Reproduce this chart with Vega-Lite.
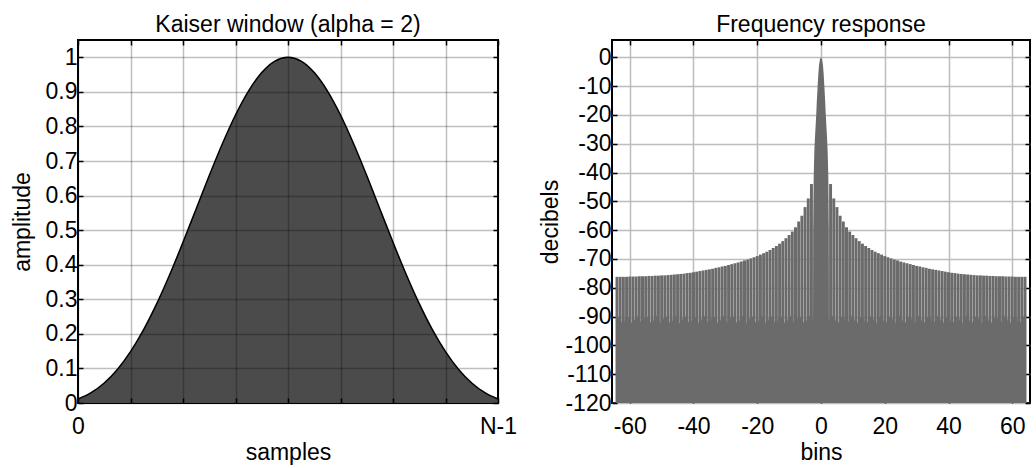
{
  "$schema": "https://vega.github.io/schema/vega-lite/v6.json",
  "background": "white",
  "padding": {"left": 10, "top": 13, "right": 5, "bottom": 0},
  "bounds": "flush",
  "spacing": 114,
  "config": {
    "font": "Liberation Sans",
    "view": {"stroke": "black", "strokeWidth": 2},
    "axis": {
      "labelFont": "Liberation Sans", "labelFontSize": 23, "labelColor": "black",
      "titleFont": "Liberation Sans", "titleFontSize": 23, "titleFontWeight": "normal", "titleColor": "black",
      "domain": false, "tickColor": "black", "tickSize": -5, "tickWidth": 1.5,
      "gridColor": "#bdbdbd", "gridWidth": 1.5, "labelPadding": 6
    },
    "axisX": {"labelPadding": 17, "titlePadding": 3},
    "axisY": {"titlePadding": 11},
    "title": {"font": "Liberation Sans", "fontSize": 23, "fontWeight": "normal", "color": "black", "offset": 2}
  },
  "datasets": {
    "kaiser": [
      {"x": 0, "w": 0.0115}, {"x": 0.03125, "w": 0.0299}, {"x": 0.0625, "w": 0.058}, {"x": 0.09375, "w": 0.0972},
      {"x": 0.125, "w": 0.1485}, {"x": 0.15625, "w": 0.2121}, {"x": 0.1875, "w": 0.2873}, {"x": 0.21875, "w": 0.3724},
      {"x": 0.25, "w": 0.4649}, {"x": 0.28125, "w": 0.5614}, {"x": 0.3125, "w": 0.6579}, {"x": 0.34375, "w": 0.75},
      {"x": 0.375, "w": 0.8331}, {"x": 0.40625, "w": 0.903}, {"x": 0.4375, "w": 0.9559}, {"x": 0.46875, "w": 0.989},
      {"x": 0.5, "w": 1},
      {"x": 0.53125, "w": 0.989}, {"x": 0.5625, "w": 0.9559}, {"x": 0.59375, "w": 0.903}, {"x": 0.625, "w": 0.8331},
      {"x": 0.65625, "w": 0.75}, {"x": 0.6875, "w": 0.6579}, {"x": 0.71875, "w": 0.5614}, {"x": 0.75, "w": 0.4649},
      {"x": 0.78125, "w": 0.3724}, {"x": 0.8125, "w": 0.2873}, {"x": 0.84375, "w": 0.2121}, {"x": 0.875, "w": 0.1485},
      {"x": 0.90625, "w": 0.0972}, {"x": 0.9375, "w": 0.058}, {"x": 0.96875, "w": 0.0299}, {"x": 1, "w": 0.0115}
    ],
    "mainlobe": [
      {"bin": -2.5, "db": -92}, {"bin": -2.45, "db": -60}, {"bin": -2.3, "db": -42}, {"bin": -2.1, "db": -33},
      {"bin": -1.9, "db": -28}, {"bin": -1.7, "db": -24}, {"bin": -1.5, "db": -20}, {"bin": -1.3, "db": -15},
      {"bin": -1.05, "db": -10}, {"bin": -0.85, "db": -6}, {"bin": -0.6, "db": -2.5}, {"bin": -0.3, "db": -0.6},
      {"bin": 0, "db": 0},
      {"bin": 0.3, "db": -0.6}, {"bin": 0.6, "db": -2.5}, {"bin": 0.85, "db": -6}, {"bin": 1.05, "db": -10},
      {"bin": 1.3, "db": -15}, {"bin": 1.5, "db": -20}, {"bin": 1.7, "db": -24}, {"bin": 1.9, "db": -28},
      {"bin": 2.1, "db": -33}, {"bin": 2.3, "db": -42}, {"bin": 2.45, "db": -60}, {"bin": 2.5, "db": -92}
    ],
    "sidelobes": [
      {"bin":-64,"peak":-76.2,"floor":-89},{"bin":-63,"peak":-76.2,"floor":-91},{"bin":-62,"peak":-76.2,"floor":-93},{"bin":-61,"peak":-76.2,"floor":-89},
      {"bin":-60,"peak":-76.1,"floor":-91},{"bin":-59,"peak":-76.1,"floor":-93},{"bin":-58,"peak":-76.1,"floor":-89},{"bin":-57,"peak":-76.0,"floor":-91},
      {"bin":-56,"peak":-76.0,"floor":-93},{"bin":-55,"peak":-76.0,"floor":-89},{"bin":-54,"peak":-75.9,"floor":-91},{"bin":-53,"peak":-75.9,"floor":-93},
      {"bin":-52,"peak":-75.8,"floor":-89},{"bin":-51,"peak":-75.8,"floor":-91},{"bin":-50,"peak":-75.7,"floor":-93},{"bin":-49,"peak":-75.7,"floor":-89},
      {"bin":-48,"peak":-75.6,"floor":-91},{"bin":-47,"peak":-75.5,"floor":-93},{"bin":-46,"peak":-75.4,"floor":-89},{"bin":-45,"peak":-75.3,"floor":-91},
      {"bin":-44,"peak":-75.2,"floor":-93},{"bin":-43,"peak":-75.1,"floor":-89},{"bin":-42,"peak":-74.9,"floor":-91},{"bin":-41,"peak":-74.8,"floor":-93},
      {"bin":-40,"peak":-74.6,"floor":-89},{"bin":-39,"peak":-74.4,"floor":-91},{"bin":-38,"peak":-74.2,"floor":-93},{"bin":-37,"peak":-74.0,"floor":-89},
      {"bin":-36,"peak":-73.8,"floor":-91},{"bin":-35,"peak":-73.6,"floor":-93},{"bin":-34,"peak":-73.4,"floor":-89},{"bin":-33,"peak":-73.1,"floor":-91},
      {"bin":-32,"peak":-72.9,"floor":-93},{"bin":-31,"peak":-72.6,"floor":-89},{"bin":-30,"peak":-72.4,"floor":-91},{"bin":-29,"peak":-72.1,"floor":-93},
      {"bin":-28,"peak":-71.8,"floor":-89},{"bin":-27,"peak":-71.5,"floor":-91},{"bin":-26,"peak":-71.2,"floor":-93},{"bin":-25,"peak":-70.9,"floor":-89},
      {"bin":-24,"peak":-70.5,"floor":-91},{"bin":-23,"peak":-70.2,"floor":-93},{"bin":-22,"peak":-69.8,"floor":-89},{"bin":-21,"peak":-69.4,"floor":-91},
      {"bin":-20,"peak":-69.0,"floor":-93},{"bin":-19,"peak":-68.5,"floor":-89},{"bin":-18,"peak":-68.0,"floor":-91},{"bin":-17,"peak":-67.5,"floor":-93},
      {"bin":-16,"peak":-66.9,"floor":-89},{"bin":-15,"peak":-66.2,"floor":-91},{"bin":-14,"peak":-65.5,"floor":-93},{"bin":-13,"peak":-64.7,"floor":-89},
      {"bin":-12,"peak":-63.8,"floor":-91},{"bin":-11,"peak":-62.8,"floor":-93},{"bin":-10,"peak":-61.7,"floor":-89},{"bin":-9,"peak":-60.5,"floor":-91},
      {"bin":-8,"peak":-59,"floor":-93},{"bin":-7,"peak":-57,"floor":-89},{"bin":-6,"peak":-55,"floor":-91},{"bin":-5,"peak":-52,"floor":-93},
      {"bin":-4,"peak":-49,"floor":-89},{"bin":-3,"peak":-44,"floor":-91},
      {"bin":3,"peak":-44,"floor":-91},{"bin":4,"peak":-49,"floor":-89},{"bin":5,"peak":-52,"floor":-93},{"bin":6,"peak":-55,"floor":-91},
      {"bin":7,"peak":-57,"floor":-89},{"bin":8,"peak":-59,"floor":-93},{"bin":9,"peak":-60.5,"floor":-91},{"bin":10,"peak":-61.7,"floor":-89},
      {"bin":11,"peak":-62.8,"floor":-93},{"bin":12,"peak":-63.8,"floor":-91},{"bin":13,"peak":-64.7,"floor":-89},{"bin":14,"peak":-65.5,"floor":-93},
      {"bin":15,"peak":-66.2,"floor":-91},{"bin":16,"peak":-66.9,"floor":-89},{"bin":17,"peak":-67.5,"floor":-93},{"bin":18,"peak":-68.0,"floor":-91},
      {"bin":19,"peak":-68.5,"floor":-89},{"bin":20,"peak":-69.0,"floor":-93},{"bin":21,"peak":-69.4,"floor":-91},{"bin":22,"peak":-69.8,"floor":-89},
      {"bin":23,"peak":-70.2,"floor":-93},{"bin":24,"peak":-70.5,"floor":-91},{"bin":25,"peak":-70.9,"floor":-89},{"bin":26,"peak":-71.2,"floor":-93},
      {"bin":27,"peak":-71.5,"floor":-91},{"bin":28,"peak":-71.8,"floor":-89},{"bin":29,"peak":-72.1,"floor":-93},{"bin":30,"peak":-72.4,"floor":-91},
      {"bin":31,"peak":-72.6,"floor":-89},{"bin":32,"peak":-72.9,"floor":-93},{"bin":33,"peak":-73.1,"floor":-91},{"bin":34,"peak":-73.4,"floor":-89},
      {"bin":35,"peak":-73.6,"floor":-93},{"bin":36,"peak":-73.8,"floor":-91},{"bin":37,"peak":-74.0,"floor":-89},{"bin":38,"peak":-74.2,"floor":-93},
      {"bin":39,"peak":-74.4,"floor":-91},{"bin":40,"peak":-74.6,"floor":-89},{"bin":41,"peak":-74.8,"floor":-93},{"bin":42,"peak":-74.9,"floor":-91},
      {"bin":43,"peak":-75.1,"floor":-89},{"bin":44,"peak":-75.2,"floor":-93},{"bin":45,"peak":-75.3,"floor":-91},{"bin":46,"peak":-75.4,"floor":-89},
      {"bin":47,"peak":-75.5,"floor":-93},{"bin":48,"peak":-75.6,"floor":-91},{"bin":49,"peak":-75.7,"floor":-89},{"bin":50,"peak":-75.7,"floor":-93},
      {"bin":51,"peak":-75.8,"floor":-91},{"bin":52,"peak":-75.8,"floor":-89},{"bin":53,"peak":-75.9,"floor":-93},{"bin":54,"peak":-75.9,"floor":-91},
      {"bin":55,"peak":-76.0,"floor":-89},{"bin":56,"peak":-76.0,"floor":-93},{"bin":57,"peak":-76.0,"floor":-91},{"bin":58,"peak":-76.1,"floor":-89},
      {"bin":59,"peak":-76.1,"floor":-93},{"bin":60,"peak":-76.1,"floor":-91},{"bin":61,"peak":-76.2,"floor":-89},{"bin":62,"peak":-76.2,"floor":-93},
      {"bin":63,"peak":-76.2,"floor":-91},{"bin":64,"peak":-76.2,"floor":-89}
    ]
  },
  "hconcat": [
    {
      "width": 420, "height": 363,
      "title": "Kaiser window (alpha = 2)",
      "data": {"name": "kaiser"},
      "layer": [
        {
          "mark": {"type": "area", "color": "#4b4b4b", "opacity": 1, "fillOpacity": 1, "interpolate": "monotone", "line": {"color": "black", "strokeWidth": 1.5}},
          "encoding": {
            "x": {"field": "x", "type": "quantitative", "scale": {"domain": [0, 1], "nice": false},
              "axis": {"title": "samples", "values": [0, 0.125, 0.25, 0.375, 0.5, 0.625, 0.75, 0.875, 1],
                "labelExpr": "datum.value == 0 ? '0' : (datum.value == 1 ? 'N-1' : '')", "labelFlush": false,
                "gridColor": "black", "gridOpacity": 0.25, "zindex": 1}},
            "y": {"field": "w", "type": "quantitative", "scale": {"domain": [0, 1.05], "nice": false},
              "axis": {"title": "amplitude", "values": [0, 0.1, 0.2, 0.3, 0.4, 0.5, 0.6, 0.7, 0.8, 0.9, 1], "format": "~g",
                "gridColor": "black", "gridOpacity": 0.25, "zindex": 1}}
          }
        },
        {
          "mark": {"type": "point", "opacity": 0},
          "encoding": {
            "x": {"field": "x", "type": "quantitative",
              "axis": {"orient": "top", "values": [0, 0.125, 0.25, 0.375, 0.5, 0.625, 0.75, 0.875, 1], "labels": false, "title": null, "grid": false, "zindex": 1}},
            "y": {"field": "w", "type": "quantitative",
              "axis": {"orient": "right", "values": [0, 0.1, 0.2, 0.3, 0.4, 0.5, 0.6, 0.7, 0.8, 0.9, 1], "labels": false, "title": null, "grid": false, "zindex": 1}}
          }
        }
      ],
      "resolve": {"axis": {"x": "independent", "y": "independent"}}
    },
    {
      "width": 418, "height": 363,
      "title": "Frequency response",
      "layer": [
        {
          "data": {"name": "sidelobes"},
          "mark": {"type": "bar", "color": "#6b6b6b", "width": 2.95, "clip": true},
          "encoding": {
            "x": {"field": "bin", "type": "quantitative", "scale": {"domain": [-64, 64], "nice": false},
              "axis": {"title": "bins", "values": [-60, -40, -20, 0, 20, 40, 60], "labelExpr": "'' + datum.value"}},
            "y": {"field": "peak", "type": "quantitative", "scale": {"domain": [-120, 6], "nice": false},
              "axis": {"title": "decibels", "titlePadding": 2, "values": [-120, -110, -100, -90, -80, -70, -60, -50, -40, -30, -20, -10, 0], "labelExpr": "'' + datum.value"}},
            "y2": {"datum": -120}
          }
        },
        {
          "data": {"name": "sidelobes"},
          "mark": {"type": "area", "color": "#6b6b6b", "clip": true},
          "encoding": {
            "x": {"field": "bin", "type": "quantitative", "axis": null},
            "y": {"field": "floor", "type": "quantitative", "axis": null},
            "y2": {"datum": -120}
          }
        },
        {
          "data": {"name": "mainlobe"},
          "mark": {"type": "area", "color": "#6b6b6b", "clip": true},
          "encoding": {
            "x": {"field": "bin", "type": "quantitative", "axis": null},
            "y": {"field": "db", "type": "quantitative", "axis": null},
            "y2": {"datum": -120}
          }
        },
        {
          "data": {"name": "sidelobes"},
          "mark": {"type": "point", "opacity": 0},
          "encoding": {
            "x": {"field": "bin", "type": "quantitative",
              "axis": {"orient": "top", "values": [-60, -40, -20, 0, 20, 40, 60], "labels": false, "title": null, "grid": false}},
            "y": {"field": "peak", "type": "quantitative",
              "axis": {"orient": "right", "values": [-120, -110, -100, -90, -80, -70, -60, -50, -40, -30, -20, -10, 0], "labels": false, "title": null, "grid": false}}
          }
        }
      ],
      "resolve": {"axis": {"x": "independent", "y": "independent"}}
    }
  ]
}
